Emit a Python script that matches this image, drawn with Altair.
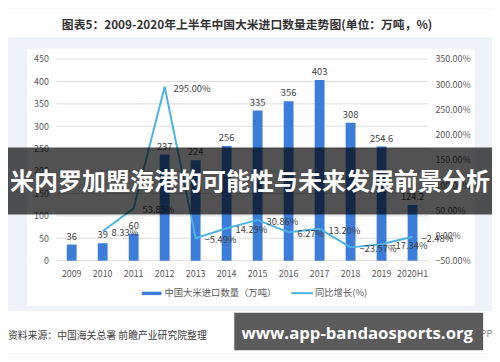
import altair as alt
import pandas as pd

# ---------------- data ----------------
years = ["2009", "2010", "2011", "2012", "2013", "2014", "2015", "2016",
         "2017", "2018", "2019", "2020H1"]
volume = [36, 39, 60, 237, 224, 256, 335, 356, 403, 308, 254.6, 124.2]
growth = [None, 8.33, 53.85, 295.00, -5.49, 14.29, 30.86, 6.27, 13.20,
          -23.57, -17.34, -2.48]
left_ticks = [0, 50, 100, 150, 200, 250, 300, 350, 400, 450]
right_ticks = [-50, 0, 50, 100, 150, 200, 250, 300, 350]

title_text = "图表5：2009-2020年上半年中国大米进口数量走势图(单位：万吨，%)"
legend_bar = "中国大米进口数量（万吨）"
legend_line = "同比增长(%)"
source_text = "资料来源：中国海关总署  前瞻产业研究院整理"
banner_text = "米内罗加盟海港的可能性与未来发展前景分析"
site_text = "www.app-bandaosports.org"

# ---------------- style ----------------
FONT = "Noto Sans CJK SC"
BLUE = "#3b7dd8"
LINE = "#4db2e4"
AXC = "#595959"
LBC = "#404040"

W, H = 455, 261

bar_df = pd.DataFrame({"year": years, "v": volume})
line_df = pd.DataFrame({"year": years[1:], "g": growth[1:]})
grid_df = pd.DataFrame({"t": left_ticks})
one = pd.DataFrame({"k": [0]})

yl_scale = alt.Scale(domain=[-98.78, 474.15], nice=False, zero=False)
yr_scale = alt.Scale(domain=[-137.80, 371.46], nice=False, zero=False)

x_enc = alt.X(
    "year:N", sort=years, title=None,
    scale=alt.Scale(range=[30, 408], paddingInner=0, paddingOuter=0),
    axis=alt.Axis(orient="bottom", domain=False, ticks=False, tickSize=0,
                  labelPadding=2, offset=-38, labelAngle=0, grid=False,
                  labelFont=FONT, labelFontSize=9, labelColor=AXC),
)


def rect(x, x2, y, y2, color, opacity=1.0):
    return alt.Chart(one).mark_rect(color=color, opacity=opacity).encode(
        x=alt.value(x), x2=alt.value(x2), y=alt.value(y), y2=alt.value(y2))


def label(txt, x, y, size, color, weight="normal", align="left"):
    return alt.Chart(one).mark_text(
        text=txt, align=align, baseline="middle", fontSize=size,
        color=color, fontWeight=weight, font=FONT,
    ).encode(x=alt.value(x), y=alt.value(y))


top_white = rect(-30, 480, -40, -11, "white")
bottom_white = rect(-30, 480, 267, 310, "white")

grid = alt.Chart(grid_df).mark_rule(color="#dcdcdc", strokeWidth=1).encode(
    y=alt.Y("t:Q", scale=yl_scale, axis=None),
    x=alt.value(30), x2=alt.value(408),
)

bars = alt.Chart(bar_df).mark_bar(size=10, color=BLUE).encode(
    x=x_enc,
    y=alt.Y("v:Q", scale=yl_scale, title=None,
            axis=alt.Axis(orient="left", values=left_ticks, grid=False,
                          domain=False, ticks=False, tickSize=0,
                          labelPadding=2, offset=-24, labelFont=FONT,
                          labelFontSize=9, labelColor=AXC)),
)

bar_labels = alt.Chart(bar_df).mark_text(
    baseline="bottom", dy=-3, fontSize=9.5, color=LBC, font=FONT
).encode(
    x=x_enc,
    y=alt.Y("v:Q", scale=yl_scale, axis=None),
    text=alt.Text("v:Q", format="~g"),
)

line = alt.Chart(line_df).mark_line(color=LINE, strokeWidth=2).encode(
    x=x_enc,
    y=alt.Y("g:Q", scale=yr_scale, title=None,
            axis=alt.Axis(orient="right", values=right_ticks,
                          labelExpr="format(datum.value, '.2f') + '%'",
                          grid=False, domain=False, ticks=False, tickSize=0,
                          labelPadding=2, offset=-42, labelFont=FONT,
                          labelFontSize=9, labelColor=AXC)),
)

line_labels = alt.Chart(line_df).transform_calculate(
    lab="format(datum.g, '.2f') + '%'"
).mark_text(
    align="left", baseline="middle", dx=9, dy=2, fontSize=9.5,
    color=LBC, font=FONT,
).encode(
    x=x_enc,
    y=alt.Y("g:Q", scale=yr_scale, axis=None),
    text="lab:N",
)

leg_rect = rect(117, 137, 247.5, 251, BLUE)
leg_text1 = label(legend_bar, 140, 249, 9.5, AXC)
leg_rule = alt.Chart(one).mark_rule(color=LINE, strokeWidth=2).encode(
    x=alt.value(269), x2=alt.value(291), y=alt.value(249))
leg_text2 = label(legend_line, 293, 249, 9.5, AXC)

title = label(title_text, 224, -24, 12, "#333333", weight="bold",
              align="center")
source = label(source_text, -19, 293, 10, "#404040")
app_tail = label("前瞻经济学人APP", 473, 291, 9, "#777777", align="right")

banner = rect(-30, 480, 101, 169, "black", opacity=0.68)
banner_lbl = label(banner_text, 227, 137, 24.4, "white", weight="bold",
                   align="center")

site_box = rect(211, 464, 269, 307, "#5b5b5b")
site_lbl = alt.Chart(one).mark_text(
    text=site_text, align="center", baseline="middle", fontSize=17,
    color="white", fontWeight="bold", font="Open Sans",
).encode(x=alt.value(336), y=alt.value(291))

chart = alt.layer(
    top_white, bottom_white, grid, bars, bar_labels, line, line_labels,
    leg_rect, leg_text1, leg_rule, leg_text2, title, source, app_tail,
    banner, banner_lbl, site_box, site_lbl,
).resolve_scale(y="independent").properties(
    width=W, height=H,
    autosize=alt.AutoSizeParams(type="none"),
    padding={"left": 19, "top": 38, "right": 18, "bottom": 47},
    background="#eef2f8",
).configure_view(fill="white", stroke="transparent")

chart.save("out.html", embed_options={"renderer": "svg", "actions": False})
